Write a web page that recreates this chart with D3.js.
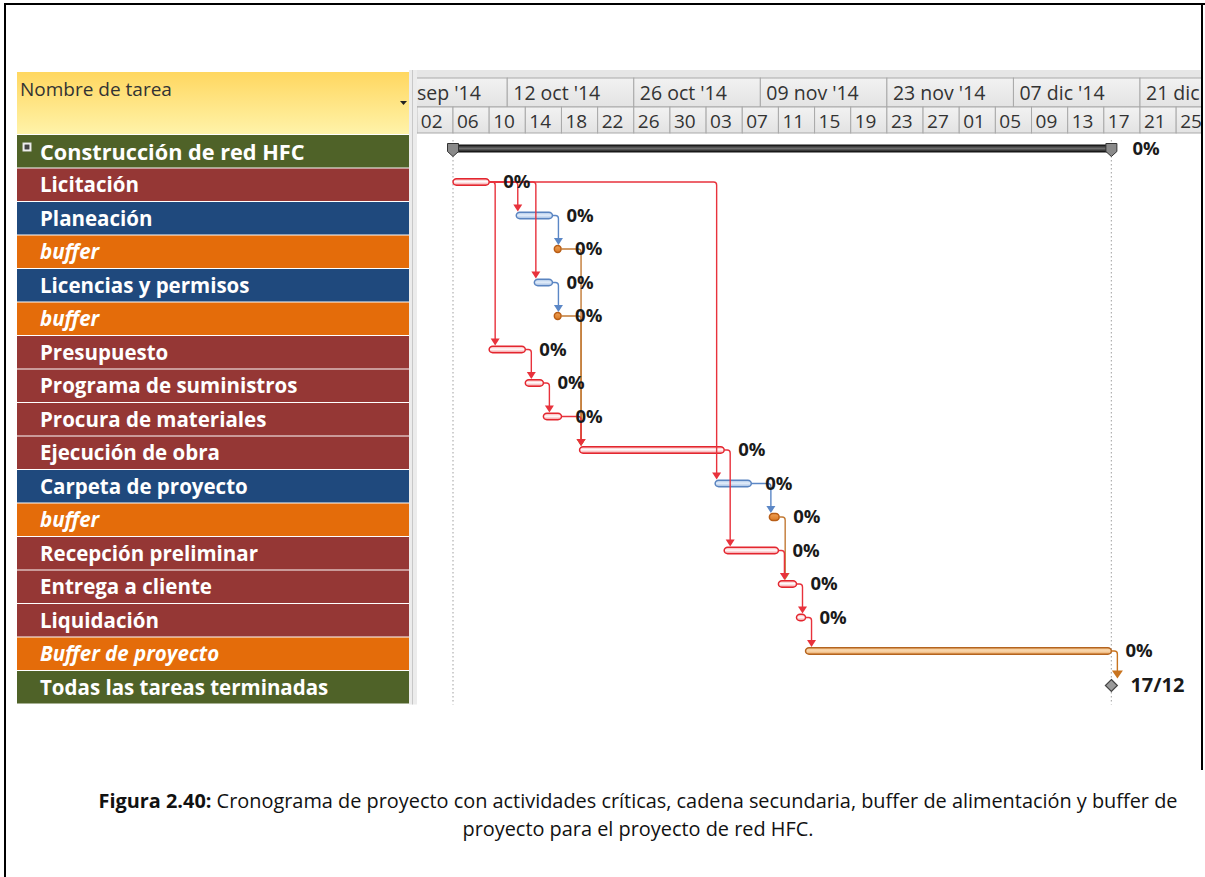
<!DOCTYPE html>
<html>
<head>
<meta charset="utf-8">
<script src="https://cdn.jsdelivr.net/npm/d3@7"></script>
<style>
  body { margin: 0; background: #fff; }
  svg text { font-family: "Open Sans", "DejaVu Sans", sans-serif; }
</style>
</head>
<body>
<div class="gantt"></div>
<script>
(function () {
  // ---- data ----
  var taskNames = [
    'Construcción de red HFC', 'Licitación', 'Planeación', 'buffer',
    'Licencias y permisos', 'buffer', 'Presupuesto', 'Programa de suministros',
    'Procura de materiales', 'Ejecución de obra', 'Carpeta de proyecto', 'buffer',
    'Recepción preliminar', 'Entrega a cliente', 'Liquidación',
    'Buffer de proyecto', 'Todas las tareas terminadas'
  ];
  var taskTypes = [
    'summary', 'critical', 'secondary', 'buffer',
    'secondary', 'buffer', 'critical', 'critical',
    'critical', 'critical', 'secondary', 'buffer',
    'critical', 'critical', 'critical',
    'projectBuffer', 'milestone'
  ];
  var taskStarts = [
    '2014-10-06T00:00', '2014-10-06T00:00', '2014-10-13T00:00', '2014-10-17T05:00',
    '2014-10-15T00:00', '2014-10-17T05:00', '2014-10-10T00:00', '2014-10-14T00:00',
    '2014-10-16T00:00', '2014-10-20T00:00', '2014-11-04T00:00', '2014-11-10T00:00',
    '2014-11-05T00:00', '2014-11-11T00:00', '2014-11-13T00:00',
    '2014-11-14T00:00', '2014-12-17T20:00'
  ];
  var taskEnds = [
    '2014-12-17T20:00', '2014-10-10T00:00', '2014-10-17T00:00', '2014-10-17T23:00',
    '2014-10-17T00:00', '2014-10-17T23:00', '2014-10-14T00:00', '2014-10-16T00:00',
    '2014-10-18T00:00', '2014-11-05T00:00', '2014-11-08T00:00', '2014-11-11T02:00',
    '2014-11-11T00:00', '2014-11-13T00:00', '2014-11-14T00:00',
    '2014-12-17T20:00', '2014-12-17T20:00'
  ];
  var taskDone = [0, 0, 0, 0, 0, 0, 0, 0, 0, 0, 0, 0, 0, 0, 0, 0, 0];
  var milestoneLabel = '17/12';

  // dependencies (predecessor -> successor, row index)
  var linkFrom = [1, 1, 1, 1, 2, 4, 3, 5, 6, 7, 8, 9, 10, 11, 12, 13, 14, 15];
  var linkTo   = [2, 4, 6, 10, 3, 5, 9, 9, 7, 8, 9, 12, 11, 13, 13, 14, 15, 16];

  var weekTicks = ['2014-09-28', '2014-10-12', '2014-10-26', '2014-11-09',
                   '2014-11-23', '2014-12-07', '2014-12-21'];
  var monthNames = ['ene', 'feb', 'mar', 'abr', 'may', 'jun', 'jul', 'ago', 'sep', 'oct', 'nov', 'dic'];

  var caption1Bold = 'Figura 2.40:';
  var caption1 = ' Cronograma de proyecto con actividades críticas, cadena secundaria, buffer de alimentación y buffer de';
  var caption2 = 'proyecto para el proyecto de red HFC.';

  // ---- layout ----
  var parse = d3.utcParse('%Y-%m-%dT%H:%M');
  var parseDay = d3.utcParse('%Y-%m-%d');
  var W = 1205, H = 877;
  var tableLeft = 17, tableRight = 409;
  var chartLeft = 417, chartRight = 1201;
  var headerTop = 72, headerBottom = 134;
  var rowTop = 135, rowH = 33.5;

  var rowFill = {
    summary: '#4f6228', milestone: '#4f6228', critical: '#953735',
    secondary: '#1f497d', buffer: '#e46c0a', projectBuffer: '#e46c0a'
  };
  var linkColor = {
    critical: '#e8323c', secondary: '#5b87c6', buffer: '#c27a35', projectBuffer: '#c9741f'
  };

  var svg = d3.select('.gantt').append('svg')
    .attr('width', W)
    .attr('height', H);
  svg.append('rect').attr('width', W).attr('height', H).attr('fill', '#fff');

  var defs = svg.append('defs');
  defs.append('clipPath').attr('id', 'chart-clip')
    .append('rect')
      .attr('x', chartLeft).attr('y', 0)
      .attr('width', chartRight - chartLeft).attr('height', H);

  function grad(id, stops) {
    var g = defs.append('linearGradient').attr('id', id)
      .attr('x1', 0).attr('y1', 0).attr('x2', 0).attr('y2', 1);
    stops.forEach(function (s) {
      g.append('stop').attr('offset', s[0]).attr('stop-color', s[1]);
    });
  }
  grad('g-yellow', [[0, '#ffd760'], [1, '#fff3a9']]);
  grad('g-head', [[0, '#f2f2f2'], [1, '#e3e3e3']]);
  grad('g-critical', [[0, '#f7a4a6'], [0.45, '#ffffff'], [1, '#f48e92']]);
  grad('g-secondary', [[0, '#a8c3e6'], [0.45, '#e4eefa'], [1, '#9fbbe2']]);
  grad('g-buffer', [[0, '#f0a055'], [1, '#d97a26']]);
  grad('g-pbuffer', [[0, '#f5c690'], [0.5, '#f9d7ae'], [1, '#e9a35c']]);
  grad('g-summary', [[0, '#1a1a1a'], [0.5, '#6e6e6e'], [1, '#111']]);

  var x = d3.scaleUtc()
    .domain([parseDay('2014-10-06'), parseDay('2014-12-21')])
    .range([453, 1140]);
  var rowY = function (i) { return rowTop + i * rowH; };
  var barY = function (i) { return rowY(i) + 13.5; };

  // ---- page frame ----
  var frame = svg.append('g').attr('class', 'frame')
    .attr('stroke', '#000').attr('stroke-width', 2);
  frame.append('line').attr('x1', 5).attr('x2', 5).attr('y1', 4).attr('y2', H);
  frame.append('line').attr('x1', 4).attr('x2', W).attr('y1', 4).attr('y2', 4);
  frame.append('line').attr('x1', 1202).attr('x2', 1202).attr('y1', 4).attr('y2', 770);

  // ---- task table ----
  var table = svg.append('g').attr('class', 'table');
  table.append('rect')
    .attr('x', tableLeft).attr('y', headerTop)
    .attr('width', tableRight - tableLeft).attr('height', headerBottom - headerTop)
    .attr('fill', 'url(#g-yellow)');
  table.append('text')
    .attr('x', tableLeft + 3).attr('y', headerTop + 24)
    .attr('font-size', '19px').attr('fill', '#333')
    .text('Nombre de tarea');
  table.append('path')
    .attr('d', 'M400,101 L407,101 L403.5,105 Z')
    .attr('fill', '#222');

  var rows = table.selectAll('.row')
    .data(taskNames)
    .enter().append('g')
      .attr('class', 'row');
  rows.append('rect')
    .attr('x', tableLeft)
    .attr('y', function (d, i) { return rowY(i); })
    .attr('width', tableRight - tableLeft)
    .attr('height', rowH - 1)
    .attr('fill', function (d, i) { return rowFill[taskTypes[i]]; });
  rows.append('text')
    .attr('x', 40)
    .attr('y', function (d, i) { return rowY(i) + (i === 0 ? 24.5 : 23.5); })
    .attr('font-size', function (d, i) { return i === 0 ? '21.7px' : '20.5px'; })
    .attr('font-weight', 'bold')
    .attr('font-style', function (d, i) {
      return taskTypes[i] === 'buffer' || taskTypes[i] === 'projectBuffer' ? 'italic' : 'normal';
    })
    .attr('fill', '#fff')
    .text(function (d) { return d; });
  // collapse box on the summary row
  table.append('rect')
    .attr('x', 23).attr('y', rowY(0) + 8).attr('width', 8).attr('height', 8)
    .attr('fill', '#fff').attr('stroke', '#ddd');
  table.append('rect')
    .attr('x', 24.5).attr('y', rowY(0) + 9.5).attr('width', 5).attr('height', 5)
    .attr('fill', '#444');

  // splitter between table and chart
  svg.append('rect')
    .attr('x', tableRight).attr('y', headerTop - 2)
    .attr('width', chartLeft - tableRight).attr('height', rowY(17) - headerTop + 2)
    .attr('fill', '#ececec');
  svg.append('line')
    .attr('x1', tableRight + 3.5).attr('x2', tableRight + 3.5)
    .attr('y1', headerTop - 2).attr('y2', rowY(17))
    .attr('stroke', '#c8c8c8');

  // ---- timescale header ----
  var chart = svg.append('g').attr('clip-path', 'url(#chart-clip)');
  var head = chart.append('g').attr('class', 'timescale');
  var tier1Top = 78, tier2Top = 107, tierBottom = headerBottom - 1;
  head.append('rect')
    .attr('x', chartLeft).attr('y', headerTop - 2)
    .attr('width', chartRight - chartLeft).attr('height', tierBottom - headerTop + 2)
    .attr('fill', '#e6e6e6');

  var weeks = weekTicks.map(parseDay);
  head.selectAll('.week')
    .data(weeks)
    .enter().append('rect')
      .attr('class', 'week')
      .attr('x', function (d) { return x(d); })
      .attr('y', tier1Top)
      .attr('width', function (d) { return x(d3.utcDay.offset(d, 14)) - x(d); })
      .attr('height', tier2Top - tier1Top)
      .attr('fill', 'url(#g-head)')
      .attr('stroke', '#a9a9a9');
  head.selectAll('.week-label')
    .data(weeks)
    .enter().append('text')
      .attr('class', 'week-label')
      .attr('x', function (d, i) { return x(d) + (i === 0 ? 9 : 6); })
      .attr('y', tier1Top + 22)
      .attr('font-size', '19.5px')
      .attr('fill', '#333')
      .text(function (d) {
        return d3.utcFormat('%d')(d) + ' ' + monthNames[d.getUTCMonth()] + " '" + d3.utcFormat('%y')(d);
      });

  var days = d3.utcDay.range(parseDay('2014-09-28'), parseDay('2015-01-01'), 4);
  head.selectAll('.day')
    .data(days)
    .enter().append('rect')
      .attr('class', 'day')
      .attr('x', function (d) { return x(d); })
      .attr('y', tier2Top)
      .attr('width', function (d) { return x(d3.utcDay.offset(d, 4)) - x(d); })
      .attr('height', tierBottom - tier2Top)
      .attr('fill', 'url(#g-head)')
      .attr('stroke', '#a9a9a9');
  head.selectAll('.day-label')
    .data(days)
    .enter().append('text')
      .attr('class', 'day-label')
      .attr('x', function (d) { return x(d) + 4; })
      .attr('y', tier2Top + 21)
      .attr('font-size', '19px')
      .attr('fill', '#333')
      .text(d3.utcFormat('%d'));

  // project start / finish markers
  var projStart = parse(taskStarts[0]), projEnd = parse(taskEnds[0]);
  chart.selectAll('.marker')
    .data([projStart, projEnd])
    .enter().append('line')
      .attr('class', 'marker')
      .attr('x1', function (d) { return x(d); })
      .attr('x2', function (d) { return x(d); })
      .attr('y1', headerBottom + 6)
      .attr('y2', rowY(17))
      .attr('stroke', '#b0b0b0')
      .attr('stroke-width', 1.2)
      .attr('stroke-dasharray', '1.5,2.5');

  // ---- bars ----
  var bars = chart.append('g').attr('class', 'bars');
  var barH = 6.5;
  var styleFor = {
    critical: ['url(#g-critical)', '#e3262f'],
    secondary: ['url(#g-secondary)', '#5a84c0'],
    buffer: ['url(#g-buffer)', '#b85e17'],
    projectBuffer: ['url(#g-pbuffer)', '#b4641f']
  };
  var taskIdx = d3.range(taskNames.length);
  bars.selectAll('.bar')
    .data(taskIdx.filter(function (i) { return styleFor[taskTypes[i]]; }))
    .enter().append('rect')
      .attr('class', 'bar')
      .attr('x', function (i) { return x(parse(taskStarts[i])); })
      .attr('y', function (i) { return barY(i) - (taskTypes[i] === 'buffer' ? 3.5 : barH / 2); })
      .attr('width', function (i) { return x(parse(taskEnds[i])) - x(parse(taskStarts[i])); })
      .attr('height', function (i) { return taskTypes[i] === 'buffer' ? 7 : barH; })
      .attr('rx', 3.5)
      .attr('fill', function (i) { return styleFor[taskTypes[i]][0]; })
      .attr('stroke', function (i) { return styleFor[taskTypes[i]][1]; })
      .attr('stroke-width', 1.5);

  // summary bar with end caps
  var sx0 = x(projStart), sx1 = x(projEnd), sy = barY(0);
  bars.append('rect')
    .attr('x', sx0).attr('y', sy - 3.5)
    .attr('width', sx1 - sx0).attr('height', 7)
    .attr('fill', 'url(#g-summary)').attr('stroke', '#111').attr('stroke-width', 1);
  bars.selectAll('.cap')
    .data([projStart, projEnd])
    .enter().append('path')
      .attr('class', 'cap')
      .attr('d', function (d) {
        var cx = x(d);
        return 'M' + (cx - 5.5) + ',' + (sy - 5) + ' H' + (cx + 5.5) + ' V' + (sy + 3) +
          ' L' + cx + ',' + (sy + 8) + ' L' + (cx - 5.5) + ',' + (sy + 3) + ' Z';
      })
      .attr('fill', '#8a8a8a').attr('stroke', '#333').attr('stroke-width', 1);

  // milestone
  var mIdx = taskTypes.indexOf('milestone');
  var mx = x(parse(taskStarts[mIdx])), my = barY(mIdx) + 1;
  bars.append('path')
    .attr('d', 'M' + mx + ',' + (my - 6) + ' L' + (mx + 6) + ',' + my + ' L' + mx + ',' + (my + 6) +
      ' L' + (mx - 6) + ',' + my + ' Z')
    .attr('fill', '#9a9a9a').attr('stroke', '#444').attr('stroke-width', 1.2);

  // ---- links ----
  var links = linkFrom.map(function (f, k) { return { from: f, to: linkTo[k] }; });
  // red links drawn last so their arrowheads sit on top
  links.sort(function (a, b) {
    return (taskTypes[a.from] === 'critical') - (taskTypes[b.from] === 'critical');
  });
  var linkG = chart.append('g').attr('class', 'links').attr('fill', 'none');
  links.forEach(function (l) {
    var xe = x(parse(taskEnds[l.from]));
    var xs = x(parse(taskStarts[l.to]));
    var y0 = barY(l.from);
    var top = taskTypes[l.to] === 'milestone' ? my - 7 : barY(l.to) - 4;
    var vx = Math.max(xs + 1.5, xe + 6);
    var r = 3;
    var col = linkColor[taskTypes[l.from]];
    var big = taskTypes[l.to] === 'milestone';
    var ah = big ? 8 : 7, aw = big ? 5.5 : 4.5;
    linkG.append('path')
      .attr('d', 'M' + xe + ',' + y0 + ' H' + (vx - r) + ' Q' + vx + ',' + y0 + ' ' + vx + ',' + (y0 + r) +
        ' V' + (top - ah + 1))
      .attr('stroke', col).attr('stroke-width', 1.4);
    linkG.append('path')
      .attr('d', 'M' + (vx - aw) + ',' + (top - ah) + ' H' + (vx + aw) + ' L' + vx + ',' + top + ' Z')
      .attr('fill', col);
  });

  // ---- percent labels ----
  var labels = chart.append('g').attr('class', 'labels')
    .attr('font-size', '18.5px').attr('font-weight', 'bold').attr('fill', '#1a1a1a');
  labels.selectAll('.pct')
    .data(taskIdx.filter(function (i) { return taskTypes[i] !== 'milestone'; }))
    .enter().append('text')
      .attr('class', 'pct')
      .attr('x', function (i) { return x(parse(taskEnds[i])) + (i === 0 ? 21 : 14); })
      .attr('y', function (i) { return barY(i) + 6; })
      .text(function (i) { return taskDone[i] + '%'; });
  labels.append('text')
    .attr('x', mx + 19).attr('y', my + 6)
    .attr('font-size', '20px')
    .text(milestoneLabel);

  // ---- caption ----
  var cap = svg.append('g').attr('class', 'caption')
    .attr('font-size', '19.9px').attr('fill', '#111')
    .attr('text-anchor', 'middle');
  var l1 = cap.append('text')
    .attr('x', 638).attr('y', 808);
  l1.append('tspan').attr('font-weight', 'bold').text(caption1Bold);
  l1.append('tspan').text(caption1);
  cap.append('text')
    .attr('x', 638).attr('y', 836)
    .text(caption2);
})();
</script>
</body>
</html>
